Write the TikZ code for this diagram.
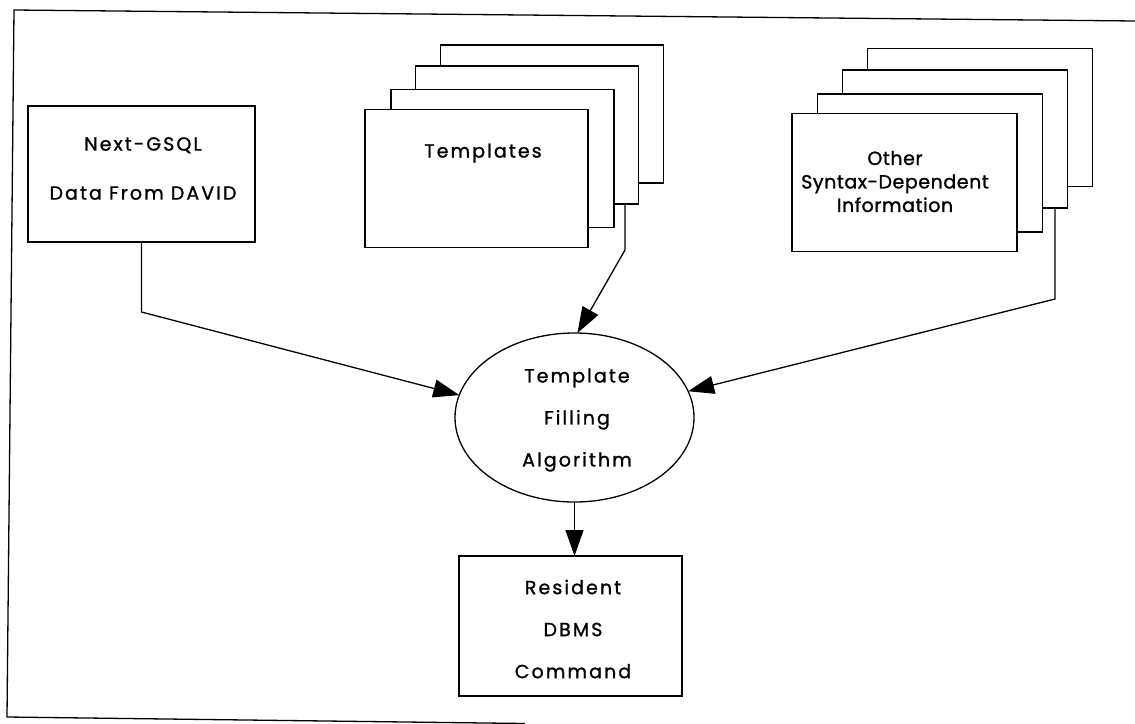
\documentclass[tikz,border=0pt]{standalone}
\usepackage{fontspec}
\setmainfont{Poppins}[LetterSpace=11, FakeBold=1.2]
\usetikzlibrary{arrows.meta,shapes.geometric}

\tikzset{
  ink/.style={line width=1.3pt, black},
  card/.style={ink, draw, fill=white, rectangle, inner sep=0pt, outer sep=0pt,
               minimum width=223pt, minimum height=138pt},
  wide card/.style={card, minimum width=225pt},
  blockbox/.style={ink, draw, fill=white, rectangle, inner sep=0pt, outer sep=0pt},
  oval/.style={ink, draw, fill=white, ellipse, inner sep=0pt, outer sep=0pt,
               minimum width=239pt, minimum height=169pt},
  caption/.style={align=center, inner sep=0pt},
  flow/.style={ink, -{Triangle[length=26pt,width=18pt]}},
  wire/.style={ink}
}

\begin{document}
\begin{tikzpicture}[x=1pt,y=-1pt]
  \useasboundingbox (0,0) rectangle (1135,723);

  % outer frame (open on the right)
  \coordinate (fa) at (1135,21);
  \coordinate (fb) at (14,10);
  \coordinate (fc) at (7,717);
  \coordinate (fd) at (525,723.5);
  \draw[wire] (fa) -- (fb) -- (fc) -- (fd);

  % source block
  \node[blockbox, minimum width=227pt, minimum height=136pt] (src) at (141.5,174) {};
  \node[caption, font=\fontsize{19}{49}\selectfont] (srct) at (143,168.5)
    {Next-GSQL\\Data From DAVID};

  % stack of templates (back to front)
  \node[card] (t4) at (552,114) {};
  \node[card] (t3) at (527,135) {};
  \node[card] (t2) at (502.5,158.5) {};
  \node[card] (t1) at (476.5,178.5) {};
  \node[caption, font=\fontsize{19}{22}\selectfont] (t1t) at (483,153) {Templates};

  % stack of syntax information (back to front)
  \node[wide card] (s4) at (980,117.5) {};
  \node[wide card] (s3) at (955,139) {};
  \node[wide card] (s2) at (930,163) {};
  \node[wide card] (s1) at (904.5,182.5) {};
  \node[caption, font=\fontsize{19}{23.5}\selectfont\addfontfeature{LetterSpace=3}] (s1t)
    at (895,181.5) {Other\\Syntax-Dependent\\Information};

  % central process
  \node[oval] (fill) at (574.5,417.5) {};
  \node[caption, font=\fontsize{19}{42}\selectfont] (fillt) at (577,420)
    {Template\\Filling\\Algorithm};

  % output block
  \node[blockbox, minimum width=223pt, minimum height=140pt] (cmd) at (570.5,626) {};
  \node[caption, font=\fontsize{19}{42}\selectfont] (cmdt) at (573,629)
    {Resident\\DBMS\\Command};

  % connector bends
  \coordinate (k1) at (141.5,312);
  \coordinate (k2) at (625,250);
  \coordinate (k3) at (1055,299);

  % connectors
  \draw[flow] (src.south) -- (k1) -- (fill.169.5);
  \draw[flow] (k2 |- t3.south) -- (k2) -- (fill.88);
  \draw[flow] (k3 |- s3.south) -- (k3) -- (fill.13.7);
  \draw[flow] (fill.south) -- (fill.south |- cmd.north);
\end{tikzpicture}
\end{document}
